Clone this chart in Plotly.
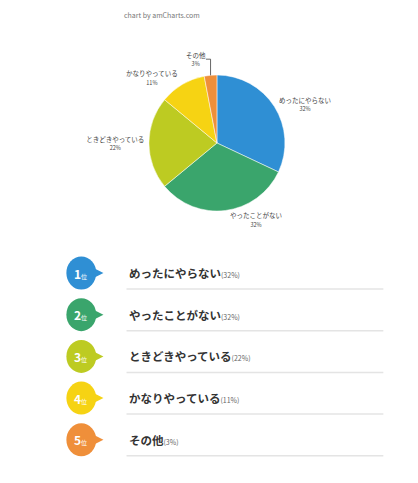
import plotly.graph_objects as go

W, H = 418, 483

labels = ["めったにやらない", "やったことがない", "ときどきやっている", "かなりやっている", "その他"]
values = [32, 32, 22, 11, 3]
colors = ["#2F8FD4", "#3AA56C", "#BDCB22", "#F6D313", "#EF8F3A"]
ranks = ["1", "2", "3", "4", "5"]
rank_suffix = "位"
credit = "chart by amCharts.com"

FONT = "Noto Sans CJK JP"

def px(x):
    return x / W

def py(y):
    return 1 - y / H

fig = go.Figure()
fig.add_trace(go.Pie(
    labels=labels,
    values=values,
    marker=dict(colors=colors, line=dict(color="white", width=0.5)),
    sort=False,
    direction="clockwise",
    rotation=0,
    textposition="outside",
    texttemplate="%{label}<br><span style='font-size:5.5px'>%{value}%</span>",
    textfont=dict(size=6.5, color="#444444", family=FONT),
    hoverinfo="skip",
    showlegend=False,
    domain=dict(x=[px(100), px(340)], y=[py(211), py(75)]),
))

shapes = []
annotations = []

annotations.append(dict(x=px(115), y=py(15), xref="paper", yref="paper",
                        text=credit, showarrow=False, xanchor="left", yanchor="middle",
                        font=dict(size=7, color="#777777", family=FONT)))

row_y0 = 273
row_step = 41.7
cx = 70
r = 16.5
for i, (lab, val, col, rk) in enumerate(zip(labels, values, colors, ranks)):
    yc = row_y0 + i * row_step
    shapes.append(dict(type="circle", xref="paper", yref="paper",
                       x0=px(cx - r), x1=px(cx + r), y0=py(yc + r), y1=py(yc - r),
                       fillcolor=col, line=dict(width=0)))
    shapes.append(dict(type="path", xref="paper", yref="paper",
                       path=f"M {px(cx + r - 3)} {py(yc - 5)} L {px(cx + r + 8)} {py(yc)} L {px(cx + r - 3)} {py(yc + 5)} Z",
                       fillcolor=col, line=dict(width=0)))
    annotations.append(dict(x=px(cx - 1), y=py(yc), xref="paper", yref="paper",
                            text=f"<b>{rk}</b><span style='font-size:6px'>{rank_suffix}</span>",
                            showarrow=False, xanchor="center", yanchor="middle",
                            font=dict(size=12, color="white", family=FONT)))
    annotations.append(dict(x=px(121), y=py(yc), xref="paper", yref="paper",
                            text=f"<b>{lab}</b><span style='font-size:7px;color:#666666'>({val}%)</span>",
                            showarrow=False, xanchor="left", yanchor="middle",
                            font=dict(size=11.5, color="#333333", family=FONT)))
    shapes.append(dict(type="line", xref="paper", yref="paper",
                       x0=px(120), x1=px(404), y0=py(yc + 16), y1=py(yc + 16),
                       line=dict(color="#E4E4E4", width=1.5)))

fig.update_layout(
    width=W, height=H,
    margin=dict(l=0, r=0, t=0, b=0),
    paper_bgcolor="white",
    plot_bgcolor="white",
    shapes=shapes,
    annotations=annotations,
    font=dict(family=FONT),
)

fig.write_html("out.html", config={"displayModeBar": False},
               post_script="document.body.style.margin='0';")
